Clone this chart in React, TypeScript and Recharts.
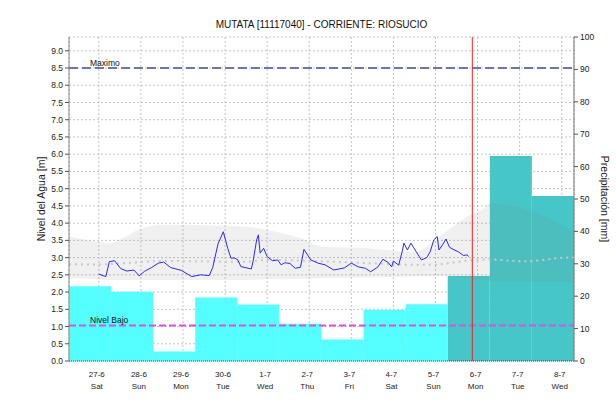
import {
  ComposedChart,
  Bar,
  Cell,
  Area,
  Line,
  XAxis,
  YAxis,
  CartesianGrid,
  ReferenceLine,
} from "recharts";

const title = "MUTATA [11117040] - CORRIENTE: RIOSUCIO";

const dayLabels = ["27-6", "28-6", "29-6", "30-6", "1-7", "2-7", "3-7", "4-7", "5-7", "6-7", "7-7", "8-7"];
const weekdays = ["Sat", "Sun", "Mon", "Tue", "Wed", "Thu", "Fri", "Sat", "Sun", "Mon", "Tue", "Wed"];

// time axis in hours from 26-6 07:00; day ticks fall on midnight
const dayTicks = dayLabels.map((_, i) => 17 + i * 24);
const levelTicks = [0, 0.5, 1, 1.5, 2, 2.5, 3, 3.5, 4, 4.5, 5, 5.5, 6, 6.5, 7, 7.5, 8, 8.5, 9];
const precipTicks = [0, 10, 20, 30, 40, 50, 60, 70, 80, 90, 100];

// daily rain 07-07 [mm]
const precipObserved = [23.1, 21.4, 2.9, 19.6, 17.4, 11.5, 6.6, 15.8, 17.5];
const precipForecast = [26.2, 63.3, 50.9];

// observed level [m]
const levelHours = [
  17, 21, 23, 26, 29.5, 33, 37, 40, 43, 47, 51, 54, 58, 64, 70, 75, 80, 82, 85, 88,
  90.5, 92.4, 94.3, 96.2, 98, 104, 105, 107, 108, 109, 111, 113, 116, 119, 121, 123, 126, 129, 132, 134,
  136, 138, 142, 146, 151, 157, 161, 165, 169, 172, 176, 179, 182, 184, 185, 188, 190, 191, 193, 195,
  198, 201, 204, 206, 208, 210, 211, 213, 215, 217, 219, 222, 225, 227, 228,
];
const levelValues = [
  2.52, 2.45, 2.88, 2.91, 2.68, 2.61, 2.64, 2.47, 2.6, 2.71, 2.84, 2.87, 2.71, 2.63, 2.45, 2.5, 2.48, 2.72, 3.4, 3.75,
  3.27, 2.98, 2.99, 2.94, 2.74, 2.67, 2.9, 3.51, 3.66, 3.13, 3.27, 3.03, 2.91, 2.93, 2.79, 2.85, 2.83, 2.69, 2.72, 3.24,
  3.08, 2.93, 2.84, 2.79, 2.64, 2.7, 2.84, 2.73, 2.69, 2.59, 2.72, 2.95, 2.86, 2.73, 2.9, 2.78, 3.17, 3.42, 3.22, 3.42,
  3.17, 2.93, 3.0, 3.17, 3.51, 3.61, 3.22, 3.37, 3.54, 3.3, 3.24, 3.17, 3.06, 3.08, 3.03,
];

// forecast envelope [m]
const bandHours = [0, 16, 22, 30, 41, 54, 100, 113, 132, 144, 170, 197, 215, 227, 238, 240, 269, 288];
const bandLow = [2.4, 2.37, 2.35, 2.35, 2.35, 2.35, 2.35, 2.37, 2.38, 2.4, 2.42, 2.45, 2.46, 2.4, 2.35, 2.33, 2.3, 2.3];
const bandHigh = [3.62, 3.46, 3.41, 3.55, 3.84, 3.95, 3.9, 3.8, 3.56, 3.32, 3.27, 3.17, 3.75, 4.19, 4.48, 4.58, 4.24, 3.75];

// forecast median [m]
const medianHours = [0, 16, 54, 100, 113, 151, 170, 197, 207, 227, 239, 246, 261, 270, 284, 288];
const medianValues = [2.81, 2.8, 2.9, 2.88, 2.93, 2.88, 2.84, 2.79, 2.79, 2.91, 2.95, 2.93, 2.89, 2.93, 3.0, 3.0];

const nowHour = 230;
const maxLevel = 8.5;
const lowLevel = 1.03;

const barData = [
  ...precipObserved.map((p) => ({ p, forecast: false })),
  ...precipForecast.map((p) => ({ p, forecast: true })),
].map((d, i) => ({ ...d, slot: i }));

const levelData = levelHours.map((t, i) => ({ t, v: levelValues[i] }));
const bandData = bandHours.map((t, i) => ({ t, range: [bandLow[i], bandHigh[i]] }));
const medianData = medianHours.map((t, i) => ({ t, m: medianValues[i] }));

const DayTick = (props: any) => {
  const { x, y, payload } = props;
  const i = dayTicks.indexOf(payload.value);
  return (
    <g fontSize={8} fill="#222">
      <text x={x - 2} y={y + 14} textAnchor="middle">{dayLabels[i]}</text>
      <text x={x - 2} y={y + 26} textAnchor="middle">{weekdays[i]}</text>
    </g>
  );
};

const lineLabel = (text: string) => (props: any) => (
  <text x={props.viewBox.x + 21} y={props.viewBox.y - 2} fontSize={8.5} fill="#111">
    {text}
  </text>
);

const leftTitle = (props: any) => {
  const { x, y, height } = props.viewBox;
  const cx = x + 45;
  const cy = y + height / 2;
  return (
    <text x={cx} y={cy} transform={`rotate(-90, ${cx}, ${cy})`} textAnchor="middle" fontSize={10.5} fill="#222">
      Nivel del Agua [m]
    </text>
  );
};

const rightTitle = (props: any) => {
  const { x, y, height } = props.viewBox;
  const cx = x + 27;
  const cy = y + height / 2;
  return (
    <text x={cx} y={cy} transform={`rotate(90, ${cx}, ${cy})`} textAnchor="middle" fontSize={10.5} fill="#222">
      Precipitación [mm]
    </text>
  );
};

export default function App() {
  return (
    <div
      style={{
        position: "absolute",
        left: 0,
        top: 0,
        width: 616,
        height: 402,
        background: "#fff",
        fontFamily: "'Liberation Sans', Arial, sans-serif",
      }}
    >
      <div
        style={{
          position: "absolute",
          left: 69,
          width: 505,
          top: 19,
          textAlign: "center",
          fontSize: 10,
          color: "#111",
        }}
      >
        {title}
      </div>
      <ComposedChart
        width={616}
        height={402}
        data={barData}
        margin={{ top: 37, right: 0, bottom: 0, left: 0 }}
        barCategoryGap={0}
        barGap={0}
      >
        <CartesianGrid xAxisId="time" yAxisId="left" stroke="#c4c4c4" strokeDasharray="2 2" />
        <XAxis xAxisId="bars" type="category" dataKey="slot" orientation="top" height={0} hide />
        <XAxis
          xAxisId="time"
          type="number"
          dataKey="t"
          domain={[0, 288]}
          ticks={dayTicks}
          interval={0}
          allowDataOverflow
          height={41}
          tick={<DayTick />}
          tickLine={false}
          tickSize={0}
          axisLine={{ stroke: "#444", strokeDasharray: "1 1" }}
        />
        <XAxis
          xAxisId="top"
          orientation="top"
          type="number"
          domain={[0, 288]}
          height={0}
          tick={false}
          tickLine={false}
          axisLine={{ stroke: "#999" }}
        />
        <YAxis
          yAxisId="left"
          domain={[0, 9.4]}
          ticks={levelTicks}
          interval={0}
          allowDataOverflow
          width={69}
          tickSize={4}
          tickMargin={2}
          tickFormatter={(v: number) => v.toFixed(1)}
          tick={{ fontSize: 8.5, fill: "#222" }}
          tickLine={{ stroke: "#555" }}
          axisLine={{ stroke: "#888" }}
          label={leftTitle}
        />
        <YAxis
          yAxisId="right"
          orientation="right"
          domain={[0, 100]}
          ticks={precipTicks}
          interval={0}
          width={42}
          tickSize={4}
          tickMargin={2}
          tick={{ fontSize: 8.5, fill: "#222" }}
          tickLine={{ stroke: "#555" }}
          axisLine={{ stroke: "#777" }}
          label={rightTitle}
        />
        <Bar xAxisId="bars" yAxisId="right" dataKey="p" isAnimationActive={false} zIndex={50}>
          {barData.map((d) => (
            <Cell key={d.slot} fill={d.forecast ? "#46c6c6" : "#55ffff"} />
          ))}
        </Bar>
        <Area
          xAxisId="time"
          yAxisId="left"
          data={bandData}
          dataKey="range"
          type="monotone"
          stroke="none"
          fill="#808080"
          fillOpacity={0.12}
          isAnimationActive={false}
          zIndex={100}
        />
        <Line
          xAxisId="time"
          yAxisId="left"
          data={medianData}
          dataKey="m"
          type="monotone"
          stroke="#c8c8c8"
          strokeWidth={2}
          strokeDasharray="2 4"
          dot={false}
          isAnimationActive={false}
        />
        <Line
          xAxisId="time"
          yAxisId="left"
          data={levelData}
          dataKey="v"
          type="linear"
          stroke="#2b2bea"
          strokeWidth={1}
          dot={false}
          isAnimationActive={false}
        />
        <ReferenceLine
          xAxisId="time"
          yAxisId="left"
          y={maxLevel}
          stroke="#6b78a8"
          strokeWidth={2}
          strokeDasharray="9 4"
          label={lineLabel("Maximo")}
        />
        <ReferenceLine
          xAxisId="time"
          yAxisId="left"
          y={lowLevel}
          stroke="#e64be6"
          strokeWidth={2}
          strokeDasharray="7 3"
          label={lineLabel("Nivel Bajo")}
        />
        <ReferenceLine xAxisId="time" yAxisId="left" x={nowHour} stroke="#ee2020" strokeWidth={1} />
      </ComposedChart>
    </div>
  );
}
